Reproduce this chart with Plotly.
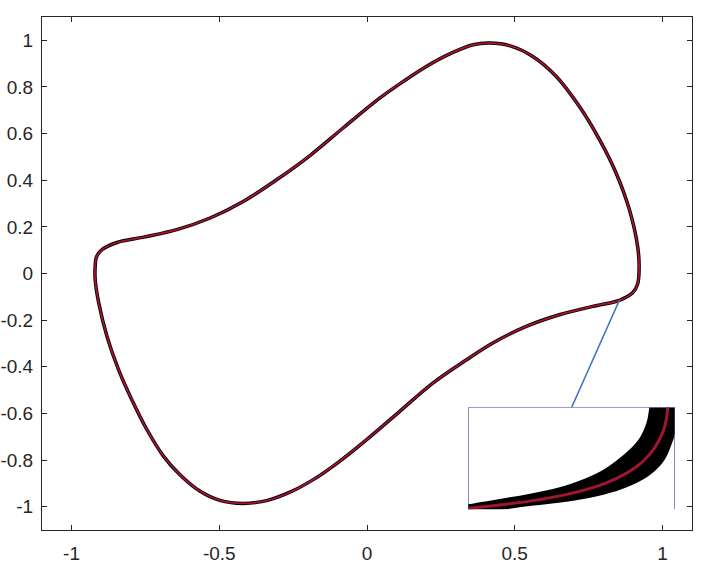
import plotly.graph_objects as go

# limit cycle (closed loop)
cycle_x = [-0.920, -0.920, -0.916, -0.897, -0.846, -0.756, -0.644, -0.531, -0.419, -0.306,
           -0.193, -0.081, 0.043, 0.122, 0.201, 0.291, 0.359, 0.415, 0.482, 0.561,
           0.640, 0.719, 0.787, 0.843, 0.888, 0.916, 0.921, 0.916, 0.899, 0.854,
           0.764, 0.651, 0.539, 0.426, 0.337, 0.224, 0.111, -0.001, -0.103, -0.182,
           -0.261, -0.340, -0.419, -0.498, -0.566, -0.634, -0.689, -0.745, -0.796, -0.841,
           -0.880, -0.908, -0.920]
cycle_y = [-0.026, 0.031, 0.070, 0.102, 0.133, 0.156, 0.188, 0.238, 0.309, 0.402,
           0.506, 0.624, 0.752, 0.823, 0.888, 0.948, 0.981, 0.988, 0.977, 0.931,
           0.846, 0.716, 0.574, 0.431, 0.274, 0.116, 0.025, -0.045, -0.083, -0.115,
           -0.141, -0.177, -0.227, -0.298, -0.370, -0.469, -0.591, -0.712, -0.815, -0.884,
           -0.938, -0.974, -0.986, -0.973, -0.933, -0.862, -0.783, -0.669, -0.541, -0.412,
           -0.270, -0.126, -0.026]

# zoomed inset, in inset box fractions
zoom_red_u = [-0.02, 0.0, 0.145, 0.306, 0.468, 0.629, 0.742, 0.839, 0.903, 0.944, 0.960, 0.965, 0.967]
zoom_red_v = [0.0, 0.007, 0.039, 0.082, 0.141, 0.230, 0.328, 0.459, 0.607, 0.770, 0.902, 0.993, 1.05]
band_top_u = [-0.02, 0.0, 0.145, 0.306, 0.468, 0.597, 0.694, 0.774, 0.831, 0.863, 0.876, 0.880]
band_top_v = [0.045, 0.049, 0.098, 0.154, 0.230, 0.328, 0.443, 0.574, 0.705, 0.852, 0.993, 1.05]
band_low_u = [-0.02, 0.145, 0.306, 0.468, 0.629, 0.742, 0.839, 0.903, 0.952, 0.984, 1.005, 1.01, 1.01]
band_low_v = [-0.04, -0.01, 0.033, 0.072, 0.131, 0.197, 0.285, 0.377, 0.492, 0.639, 0.78, 0.9, 1.05]

x_ticks = [-1, -0.5, 0, 0.5, 1]
x_labels = ['-1', '-0.5', '0', '0.5', '1']
y_ticks = [-1, -0.8, -0.6, -0.4, -0.2, 0, 0.2, 0.4, 0.6, 0.8, 1]
y_labels = ['-1', '-0.8', '-0.6', '-0.4', '-0.2', '0', '0.2', '0.4', '0.6', '0.8', '1']

dark = '#262626'
red = '#A2142F'

fig = go.Figure()

fig.add_trace(go.Scatter(x=cycle_x, y=cycle_y, mode='lines',
                         line=dict(color='black', width=3.5, shape='spline', smoothing=1),
                         hoverinfo='skip', showlegend=False))
fig.add_trace(go.Scatter(x=cycle_x, y=cycle_y, mode='lines',
                         line=dict(color=red, width=1.8, shape='spline', smoothing=1),
                         showlegend=False))

band_u = band_top_u + band_low_u[::-1]
band_v = band_top_v + band_low_v[::-1]
fig.add_trace(go.Scatter(x=band_u, y=band_v, mode='lines', fill='toself', fillcolor='black',
                         line=dict(color='black', width=0, shape='spline'),
                         xaxis='x2', yaxis='y2', hoverinfo='skip', showlegend=False))
fig.add_trace(go.Scatter(x=zoom_red_u, y=zoom_red_v, mode='lines',
                         line=dict(color=red, width=3, shape='spline'),
                         xaxis='x2', yaxis='y2', showlegend=False))

axis_common = dict(showgrid=False, zeroline=False, showline=True, mirror='ticks',
                   linecolor=dark, linewidth=1, ticks='inside', ticklen=5, automargin=False,
                   tickcolor=dark, tickfont=dict(family='Liberation Sans, Arial', size=19, color=dark))

fig.update_layout(
    width=712, height=567,
    margin=dict(l=42, r=20, t=17, b=37),
    paper_bgcolor='white', plot_bgcolor='white',
    xaxis=dict(range=[-1.1, 1.1], tickvals=x_ticks, ticktext=x_labels,
               ticklabelstandoff=6, **axis_common),
    yaxis=dict(range=[-1.1, 1.1], tickvals=y_ticks, ticktext=y_labels,
               ticklabelstandoff=4, **axis_common),
    xaxis2=dict(domain=[0.6554, 0.9737], range=[0, 1], visible=False, anchor='y2'),
    yaxis2=dict(domain=[0.0405, 0.2388], range=[0, 1], visible=False, anchor='x2'),
    shapes=[
        # connector from curve to inset
        dict(type='line', xref='x', yref='y', x0=0.693, y0=-0.573, x1=0.854, y1=-0.115,
             line=dict(color='#4472C4', width=1.5)),
        # inset frame (no bottom edge)
        dict(type='line', xref='x2', yref='y2', x0=0, y0=0, x1=0, y1=1,
             line=dict(color='#2E4B9B', width=1.2), layer='above'),
        dict(type='line', xref='x2', yref='y2', x0=0, y0=1, x1=1, y1=1,
             line=dict(color='#2E4B9B', width=1.2), layer='above'),
        dict(type='line', xref='x2', yref='y2', x0=1, y0=0, x1=1, y1=1,
             line=dict(color='#2E4B9B', width=1.2), layer='above'),
    ],
)

# drop the default page margin so the figure sits at the window corner
fig.write_html("out.html", config={'displayModeBar': False},
               post_script="document.body.style.margin='0';")
